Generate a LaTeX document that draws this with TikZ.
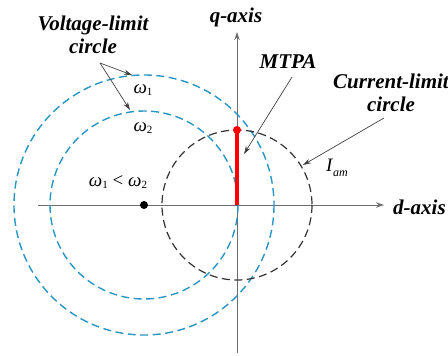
\documentclass[tikz,border=0pt]{standalone}
\usepackage{fontspec}
\setmainfont{Liberation Serif}
\usetikzlibrary{arrows.meta}
\definecolor{vblue}{RGB}{40,150,195}
\definecolor{axgray}{RGB}{110,110,110}
\newcommand{\om}[1]{\textit{ω}\raisebox{-0.3ex}{\fontsize{11}{12}\selectfont #1}}
\begin{document}
\begin{tikzpicture}[x=1pt,y=-1pt,
  axis/.style={draw=axgray,line width=0.9pt,-{Stealth[length=8pt,width=5.5pt]}},
  vcircle/.style={draw=vblue,line width=1.4pt,dash pattern=on 8pt off 4.5pt},
  icircle/.style={draw=black!80,line width=1.2pt,dash pattern=on 8pt off 4.5pt},
  pointer/.style={draw=black!75,line width=0.7pt,-{Stealth[length=8pt,width=5pt]}},
  lbl/.style={font=\fontsize{21}{23}\selectfont\bfseries\itshape,align=center,inner sep=0pt},
  sym/.style={font=\fontsize{19}{20}\selectfont,inner sep=0pt}]
\useasboundingbox (0,0) rectangle (448,356);
% axes
\coordinate (O) at (237,205);
\coordinate (dstart) at (38,205);
\coordinate (dend) at (384,205);
\coordinate (qstart) at (237,353);
\coordinate (qend) at (237,32);
\draw[axis] (dstart) -- (dend);
\draw[axis] (qstart) -- (qend);
\node[lbl,anchor=west] (dlab) at (393,207) {d-axis};
\node[lbl] (qlab) at (236,17) {q-axis};
% voltage-limit circles
\coordinate (C) at (144,205);
\draw[vcircle] (C) circle[radius=130];
\draw[vcircle] (C) circle[radius=94];
\fill (C) circle[radius=4];
% current-limit circle
\draw[icircle] (O) circle[radius=75];
% MTPA
\coordinate (M) at (237,130);
\draw[red,line width=3.5pt] (O) -- (M);
\fill[red] (M) circle[radius=4];
% labels
\node[lbl] (vlab) at (93,35) {Voltage-limit\\circle};
\coordinate (vfoot) at (100,63);
\coordinate (v1) at (132,75);
\coordinate (v2) at (130,110);
\draw[pointer] (vfoot) -- (v1);
\draw[pointer] (vfoot) -- (v2);
\node[sym] (w1) at (143,90) {\om{1}};
\node[sym] (w2) at (143,128) {\om{2}};
\node[sym] (wcmp) at (118,182) {\om{1} < \om{2}};
\node[lbl] (mlab) at (288,62) {MTPA};
\coordinate (mfoot) at (292,77);
\coordinate (mtip) at (244,154);
\draw[pointer] (mfoot) -- (mtip);
\node[lbl] (clab) at (391,93) {Current-limit\\circle};
\coordinate (cfoot) at (384,118);
\coordinate (ctip) at (303,165);
\draw[pointer] (cfoot) -- (ctip);
\node[sym] (Iam) at (337,168) {\textit{I}\raisebox{-0.5ex}{\fontsize{12}{13}\selectfont\textit{am}}};
\end{tikzpicture}
\end{document}
